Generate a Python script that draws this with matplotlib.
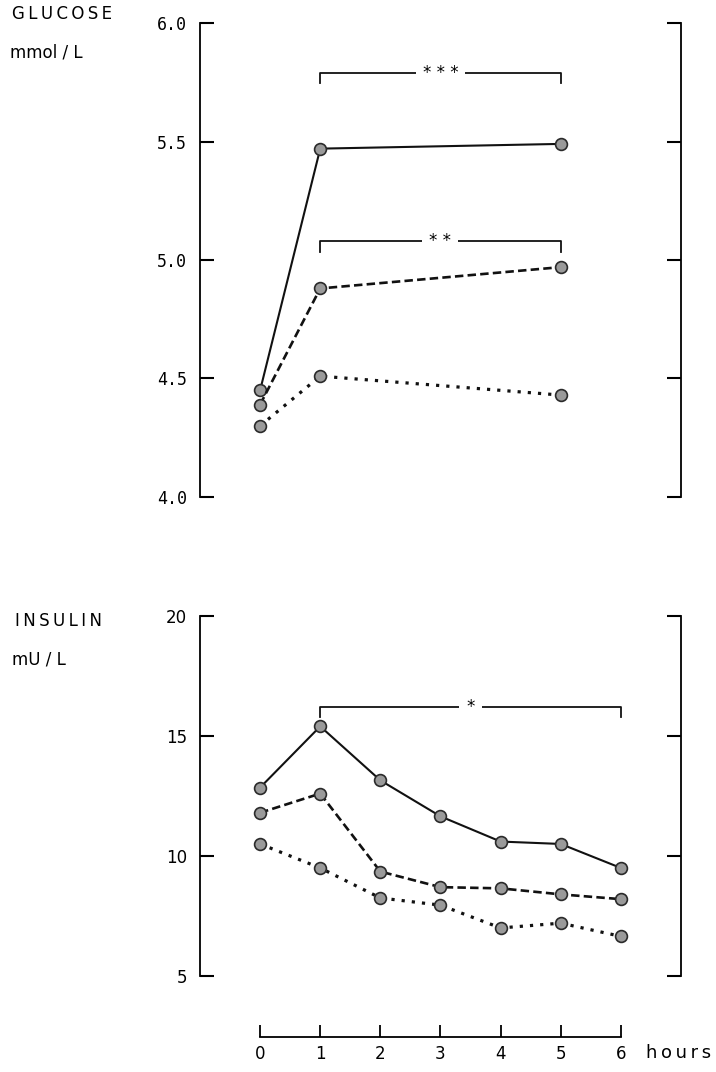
import matplotlib
matplotlib.use("Agg")
import matplotlib.pyplot as plt

# %% data
hours_gl = [0, 1, 5]
glucose_solid = [4.45, 5.47, 5.49]
glucose_dashed = [4.39, 4.88, 4.97]
glucose_dotted = [4.30, 4.51, 4.43]

hours_in = [0, 1, 2, 3, 4, 5, 6]
insulin_solid = [12.85, 15.4, 13.15, 11.65, 10.6, 10.5, 9.5]
insulin_dashed = [11.8, 12.6, 9.35, 8.7, 8.65, 8.4, 8.2]
insulin_dotted = [10.5, 9.5, 8.25, 7.95, 7.0, 7.2, 6.65]

glucose_ticks = [4.0, 4.5, 5.0, 5.5, 6.0]
insulin_ticks = [5, 10, 15, 20]
hour_ticks = [0, 1, 2, 3, 4, 5, 6]

# significance brackets: (x0, x1, y, label)
glucose_sig = [(1, 5, 5.79, "* * *"), (1, 5, 5.08, "* *")]
insulin_sig = [(1, 6, 16.2, "*")]

# %% figure
fig = plt.figure(figsize=(7.16, 10.72), dpi=100)
styles = [dict(ls="-", lw=1.5), dict(ls=(0, (3.2, 1.6)), lw=1.9), dict(ls=(0, (1, 2.2)), lw=2.3)]
mk = dict(marker="o", ms=8.5, mfc="#9a9a9a", mec="#2a2a2a", mew=1.2, color="#111111")
XLIM = (-1.0, 7.0)
THIN = "\u2009"


def spaced(s):
    return THIN.join(s)


def setup(ax, ticks, labels, family):
    ax.set_xlim(*XLIM)
    ax.spines["top"].set_visible(False)
    ax.spines["bottom"].set_visible(False)
    for s in ("left", "right"):
        ax.spines[s].set_linewidth(1.3)
    ax.set_xticks([])
    ax.set_yticks(ticks)
    ax.set_yticklabels(labels, family=family, fontsize=12)
    ax.tick_params(axis="y", left=True, right=True, direction="in",
                   length=10, width=1.5, pad=9.5)


def bracket(ax, x0, x1, y, text, drop):
    ax.plot([x0, x0, x1, x1], [y - drop, y, y, y - drop], color="#111111", lw=1.3)
    ax.text((x0 + x1) / 2, y, text, ha="center", va="center", fontsize=12,
            bbox=dict(facecolor="white", edgecolor="none", pad=5))


# glucose panel
ax1 = fig.add_axes([0.2793, 0.5364, 0.6718, 0.4421])
ax1.set_ylim(4.0, 6.0)
setup(ax1, glucose_ticks, ["%.1f" % t for t in glucose_ticks], "DejaVu Sans Mono")
for ys, st in zip([glucose_solid, glucose_dashed, glucose_dotted], styles):
    ax1.plot(hours_gl, ys, **st, **mk)
for x0, x1, y, t in glucose_sig:
    bracket(ax1, x0, x1, y, t, 0.045)

# insulin panel
ax2 = fig.add_axes([0.2793, 0.0896, 0.6718, 0.3358])
ax2.set_ylim(5, 20)
setup(ax2, insulin_ticks, [str(t) for t in insulin_ticks], "DejaVu Sans")
for ys, st in zip([insulin_solid, insulin_dashed, insulin_dotted], styles):
    ax2.plot(hours_in, ys, **st, **mk)
for x0, x1, y, t in insulin_sig:
    bracket(ax2, x0, x1, y, t, 0.42)

# hours axis
ax3 = fig.add_axes([0.2793, 0.0326, 0.6718, 0.001])
ax3.set_xlim(*XLIM)
for s in ("top", "left", "right"):
    ax3.spines[s].set_visible(False)
ax3.spines["bottom"].set_bounds(0, 6)
ax3.spines["bottom"].set_linewidth(1.3)
ax3.set_yticks([])
ax3.set_xticks(hour_ticks)
ax3.set_xticklabels([str(h) for h in hour_ticks], family="DejaVu Sans", fontsize=12)
ax3.tick_params(axis="x", direction="in", length=9, width=1.3, pad=6)
fig.text(0.902, 0.0175, spaced("hours"), fontsize=13, va="center", ha="left")

# axis titles
fig.text(0.017, 0.987, spaced("GLUCOSE"), fontsize=12, va="center", ha="left")
fig.text(0.014, 0.951, "mmol / L", fontsize=12, va="center", ha="left")
fig.text(0.021, 0.421, spaced("INSULIN"), fontsize=12, va="center", ha="left")
fig.text(0.017, 0.385, "mU / L", fontsize=12, va="center", ha="left")

fig.savefig("out.png", dpi=100)
